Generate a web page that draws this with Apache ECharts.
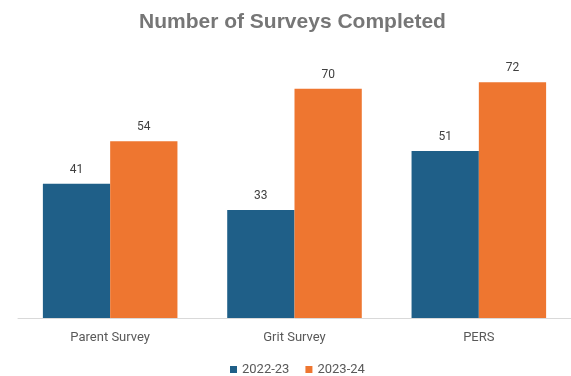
<!DOCTYPE html>
<html><head><meta charset="utf-8">
<script src="https://cdn.jsdelivr.net/npm/echarts@6/dist/echarts.min.js"></script>
<style>html,body{margin:0;padding:0;background:#fff}#c{width:571px;height:376px}</style>
</head><body><div id="c"></div>
<script>
const categories = ['Parent Survey', 'Grit Survey', 'PERS'];
const seriesNames = ['2022-23', '2023-24'];
const values2022 = [41, 33, 51];
const values2023 = [54, 70, 72];

const chart = echarts.init(document.getElementById('c'), null, {renderer: 'canvas'});
const labelStyle = {show: true, position: 'top', distance: 8, color: '#404040', fontSize: 12, fontFamily: 'Roboto'};
chart.setOption({
  animation: false,
  backgroundColor: '#fff',
  title: {text: 'Number of Surveys Completed', left: 134, top: 7,
    textStyle: {fontFamily: 'Liberation Sans', fontWeight: 'bold', fontSize: 21, color: '#767676'}},
  legend: {top: 358, left: 225, itemWidth: 7, itemHeight: 7, itemGap: 16, icon: 'rect',
    textStyle: {fontFamily: 'Roboto', fontSize: 13, color: '#595959'},
    data: seriesNames},
  grid: {left: 18, right: 0, top: 56, bottom: 58},
  xAxis: {type: 'category', data: categories,
    axisLine: {lineStyle: {color: '#d9d9d9', width: 1}}, axisTick: {show: false},
    axisLabel: {color: '#595959', fontSize: 13, fontFamily: 'Roboto', margin: 13}},
  yAxis: {type: 'value', min: 0, max: 80, show: false, splitLine: {show: false}},
  series: [
    {name: seriesNames[0], type: 'bar', data: values2022, barGap: '0%', barCategoryGap: '27%',
     itemStyle: {color: '#1f5f88'}, label: labelStyle},
    {name: seriesNames[1], type: 'bar', data: values2023, barGap: '0%', barCategoryGap: '27%',
     itemStyle: {color: '#ee7630'}, label: labelStyle}
  ]
});
</script></body></html>
